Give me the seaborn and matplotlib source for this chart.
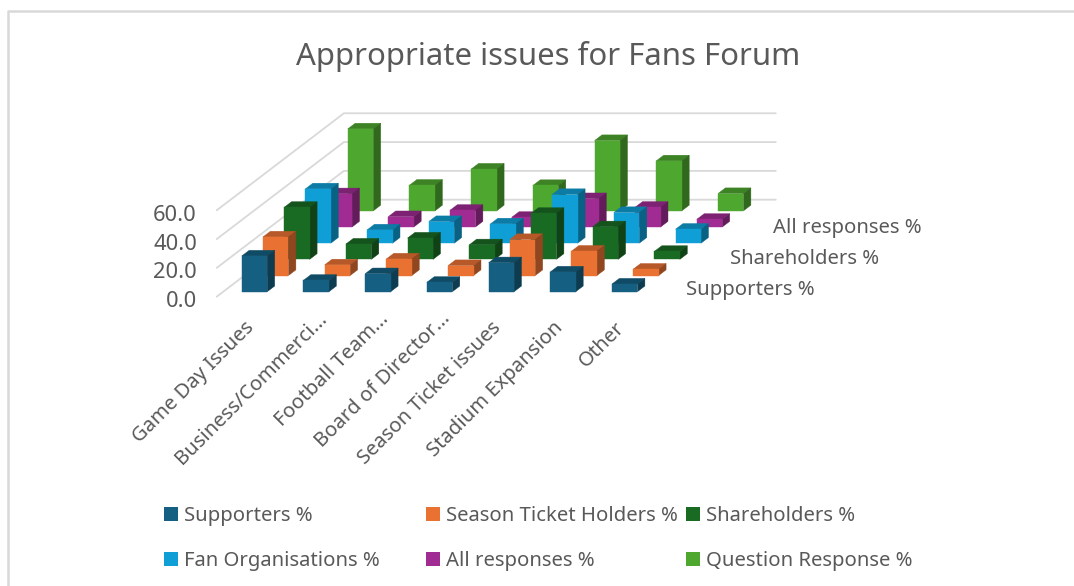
import matplotlib
matplotlib.use("Agg")
import matplotlib.pyplot as plt
from matplotlib.colors import to_rgb
from matplotlib.patches import Rectangle
import pandas as pd
import seaborn as sns

# Survey results, percent of respondents per issue
categories = ["Game Day Issues", "Business/Commerci...", "Football Team...", "Board of Director...",
              "Season Ticket issues", "Stadium Expansion", "Other"]
supporters = [24.8, 7.9, 12.5, 6.5, 20.1, 13.7, 5.3]
season_ticket = [26.8, 7.4, 11.5, 6.9, 25.0, 16.9, 4.4]
shareholders = [36.1, 10.6, 14.8, 10.1, 31.9, 22.6, 5.5]
fan_orgs = [37.7, 9.2, 15.0, 13.4, 33.8, 21.3, 9.7]
all_responses = [23.1, 7.2, 11.6, 6.7, 19.7, 13.7, 5.3]
question_response = [56.9, 17.8, 29.0, 17.6, 48.8, 34.7, 12.0]
series_names = ["Supporters %", "Season Ticket Holders %", "Shareholders %",
                "Fan Organisations %", "All responses %", "Question Response %"]
value_ticks = [0, 20, 40, 60]
colors = ["#156082", "#E97132", "#196B24", "#0F9ED5", "#A02B93", "#4EA72E"]

df = pd.DataFrame({"category": categories, series_names[0]: supporters, series_names[1]: season_ticket,
                   series_names[2]: shareholders, series_names[3]: fan_orgs,
                   series_names[4]: all_responses, series_names[5]: question_response})

sns.set_theme(style="white")
plt.rcParams["font.family"] = ["Noto Sans", "DejaVu Sans"]
palette = sns.color_palette(colors)
TEXT = "#595959"
GRID = "#D9D9D9"

fig = plt.figure(figsize=(10.74, 5.86), dpi=100)
ax = fig.add_axes([0, 0, 1, 1])
ax.set_xlim(0, 1074)
ax.set_ylim(586, 0)
ax.axis("off")

# Oblique projection of (category, series depth, value) onto the canvas
ORIGIN = (216.7, 296.7)
CAT_STEP = 61.7
DEPTH_STEP = (21.2, -16.17)
VALUE_STEP = 1.44


def project(cat, depth, value):
    return (ORIGIN[0] + cat * CAT_STEP + depth * DEPTH_STEP[0],
            ORIGIN[1] + depth * DEPTH_STEP[1] - value * VALUE_STEP)


def shade(color, factor):
    return tuple(c * factor for c in to_rgb(color))


def bar3d(cat, series, value, color):
    c0, c1 = cat + 0.3, cat + 0.3 + 0.413
    d0, d1 = series + 0.31, series + 0.31 + 0.35
    faces = [
        ([(c0, d1, value), (c1, d1, value), (c1, d0, value), (c0, d0, value)], 0.78),   # top
        ([(c1, d0, 0), (c1, d1, 0), (c1, d1, value), (c1, d0, value)], 0.62),           # side
        ([(c0, d0, 0), (c1, d0, 0), (c1, d0, value), (c0, d0, value)], 1.0),            # front
    ]
    for corners, factor in faces:
        xs, ys = zip(*(project(*p) for p in corners))
        ax.fill(xs, ys, color=shade(color, factor), lw=0.3, zorder=4 - series * 0.1)


# Chart frame, open towards the right and bottom of the canvas
ax.plot([8, 8, 1074], [586, 11, 11], color=GRID, lw=1.8, zorder=1)

# Walls: gridlines on the back and left planes, floor edge at zero
n_cat = len(categories)
for tick in value_ticks:
    x0, y0 = project(0, 0, tick)
    x1, y1 = project(0, 6, tick)
    x2, y2 = project(n_cat, 6, tick)
    ax.plot([x0, x1, x2], [y0, y1, y2], color=GRID, lw=1.3, zorder=2)
    ax.text(197, y0 + 5, f"{tick:.1f}", ha="right", va="center", color=TEXT, fontsize=15.8)

# Bars, nearer rows overlap the ones behind them
for s in range(len(series_names) - 1, -1, -1):
    for c, value in enumerate(df[series_names[s]]):
        bar3d(c, s, value, palette[s])

# Category labels along the front edge; shortened labels sit slightly higher
for c, label in enumerate(categories):
    x, y = project(c + 0.5, 0, 0)
    nudge = (11, -9) if label.endswith("...") else (0, 0)
    ax.text(x - 3 + nudge[0], y + 21 + nudge[1], label, rotation=45, rotation_mode="anchor",
            ha="right", va="top", color=TEXT, fontsize=14.6)

# Depth-axis labels for every other series
for s, right, y in zip([0, 2, 4], [815, 879, 922], [290, 259, 228]):
    ax.text(right, y, series_names[s], ha="right", va="center", color=TEXT, fontsize=14.6)

ax.text(548, 56, "Appropriate issues for Fans Forum", ha="center", va="center", color=TEXT, fontsize=22.4)

# Legend grid
legend_x = [164, 426, 686]
legend_y = [514, 559]
for i, name in enumerate(series_names):
    x, y = legend_x[i % 3], legend_y[i // 3]
    ax.add_patch(Rectangle((x, y - 7), 13.5, 13.5, fc=palette[i], ec="none"))
    ax.text(x + 20, y + 2, name, ha="left", va="center", color=TEXT, fontsize=14.6)

fig.savefig("out.png", dpi=100, facecolor="white")
